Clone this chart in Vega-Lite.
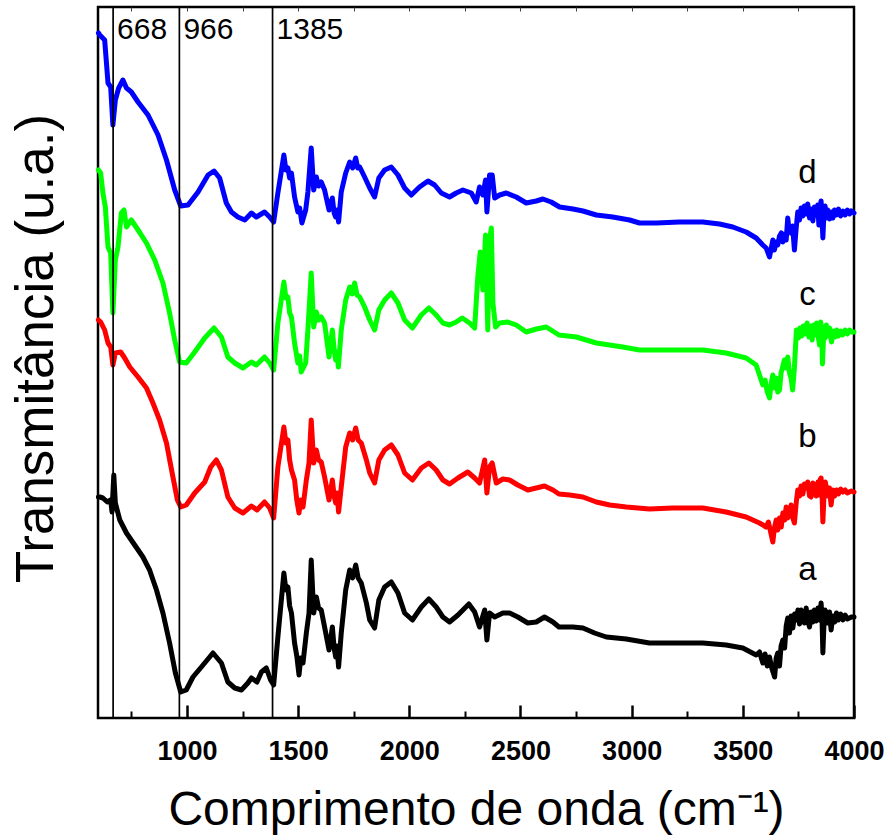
{
  "$schema": "https://vega.github.io/schema/vega-lite/v6.json",
  "width": 756,
  "height": 711,
  "autosize": {"type": "none"},
  "padding": {"left": 98, "top": 7, "right": 36, "bottom": 118},
  "background": "white",
  "config": {
    "view": {"stroke": "black", "strokeWidth": 2.5, "fill": null},
    "font": "Liberation Sans",
    "axis": {"grid": false, "zindex": 1}
  },
  "datasets": {
    "spectra": [
      {"s":"a","wn":602,"t":221},{"s":"a","wn":608,"t":221},{"s":"a","wn":622,"t":220},{"s":"a","wn":642,"t":216},{"s":"a","wn":657,"t":218},{"s":"a","wn":663,"t":206},{"s":"a","wn":671,"t":243},{"s":"a","wn":678,"t":215},{"s":"a","wn":698,"t":198},{"s":"a","wn":728,"t":185},{"s":"a","wn":765,"t":173},{"s":"a","wn":802,"t":161},{"s":"a","wn":832,"t":148},{"s":"a","wn":863,"t":128},{"s":"a","wn":892,"t":105},{"s":"a","wn":922,"t":75},{"s":"a","wn":948,"t":45},{"s":"a","wn":972,"t":26},{"s":"a","wn":997,"t":28},{"s":"a","wn":1027,"t":41},{"s":"a","wn":1065,"t":51},{"s":"a","wn":1117,"t":65},{"s":"a","wn":1155,"t":55},{"s":"a","wn":1184,"t":36},{"s":"a","wn":1215,"t":30},{"s":"a","wn":1245,"t":28},{"s":"a","wn":1274,"t":35},{"s":"a","wn":1290,"t":40},{"s":"a","wn":1315,"t":36},{"s":"a","wn":1335,"t":46},{"s":"a","wn":1357,"t":50},{"s":"a","wn":1376,"t":38},{"s":"a","wn":1390,"t":33},{"s":"a","wn":1409,"t":81},{"s":"a","wn":1436,"t":145},{"s":"a","wn":1445,"t":128},{"s":"a","wn":1454,"t":131},{"s":"a","wn":1462,"t":112},{"s":"a","wn":1470,"t":105},{"s":"a","wn":1484,"t":75},{"s":"a","wn":1494,"t":62},{"s":"a","wn":1504,"t":43},{"s":"a","wn":1512,"t":60},{"s":"a","wn":1522,"t":55},{"s":"a","wn":1537,"t":85},{"s":"a","wn":1549,"t":105},{"s":"a","wn":1559,"t":158},{"s":"a","wn":1570,"t":105},{"s":"a","wn":1582,"t":121},{"s":"a","wn":1592,"t":110},{"s":"a","wn":1604,"t":108},{"s":"a","wn":1619,"t":91},{"s":"a","wn":1639,"t":68},{"s":"a","wn":1654,"t":91},{"s":"a","wn":1662,"t":70},{"s":"a","wn":1669,"t":61},{"s":"a","wn":1675,"t":72},{"s":"a","wn":1682,"t":51},{"s":"a","wn":1694,"t":85},{"s":"a","wn":1714,"t":128},{"s":"a","wn":1732,"t":148},{"s":"a","wn":1745,"t":140},{"s":"a","wn":1759,"t":153},{"s":"a","wn":1770,"t":140},{"s":"a","wn":1784,"t":135},{"s":"a","wn":1807,"t":115},{"s":"a","wn":1822,"t":98},{"s":"a","wn":1844,"t":90},{"s":"a","wn":1863,"t":118},{"s":"a","wn":1889,"t":131},{"s":"a","wn":1919,"t":136},{"s":"a","wn":1949,"t":125},{"s":"a","wn":1979,"t":105},{"s":"a","wn":2014,"t":98},{"s":"a","wn":2054,"t":111},{"s":"a","wn":2088,"t":119},{"s":"a","wn":2121,"t":111},{"s":"a","wn":2151,"t":101},{"s":"a","wn":2181,"t":96},{"s":"a","wn":2219,"t":103},{"s":"a","wn":2268,"t":114},{"s":"a","wn":2294,"t":106},{"s":"a","wn":2316,"t":91},{"s":"a","wn":2339,"t":108},{"s":"a","wn":2349,"t":78},{"s":"a","wn":2361,"t":105},{"s":"a","wn":2384,"t":101},{"s":"a","wn":2421,"t":105},{"s":"a","wn":2451,"t":105},{"s":"a","wn":2488,"t":101},{"s":"a","wn":2533,"t":95},{"s":"a","wn":2571,"t":96},{"s":"a","wn":2608,"t":101},{"s":"a","wn":2646,"t":96},{"s":"a","wn":2673,"t":91},{"s":"a","wn":2736,"t":91},{"s":"a","wn":2781,"t":90},{"s":"a","wn":2833,"t":85},{"s":"a","wn":2886,"t":81},{"s":"a","wn":2976,"t":79},{"s":"a","wn":3080,"t":75},{"s":"a","wn":3185,"t":75},{"s":"a","wn":3320,"t":75},{"s":"a","wn":3425,"t":73},{"s":"a","wn":3500,"t":70},{"s":"a","wn":3560,"t":63},{"s":"a","wn":3575,"t":66},{"s":"a","wn":3590,"t":55},{"s":"a","wn":3600,"t":64},{"s":"a","wn":3610,"t":52},{"s":"a","wn":3620,"t":61},{"s":"a","wn":3630,"t":50},{"s":"a","wn":3643,"t":41},{"s":"a","wn":3650,"t":60},{"s":"a","wn":3657,"t":65},{"s":"a","wn":3665,"t":52},{"s":"a","wn":3672,"t":72},{"s":"a","wn":3680,"t":78},{"s":"a","wn":3688,"t":70},{"s":"a","wn":3695,"t":92},{"s":"a","wn":3702,"t":100},{"s":"a","wn":3710,"t":85},{"s":"a","wn":3717,"t":102},{"s":"a","wn":3725,"t":90},{"s":"a","wn":3733,"t":104},{"s":"a","wn":3741,"t":98},{"s":"a","wn":3748,"t":108},{"s":"a","wn":3755,"t":94},{"s":"a","wn":3762,"t":108},{"s":"a","wn":3770,"t":105},{"s":"a","wn":3777,"t":95},{"s":"a","wn":3785,"t":110},{"s":"a","wn":3792,"t":97},{"s":"a","wn":3800,"t":91},{"s":"a","wn":3807,"t":106},{"s":"a","wn":3815,"t":96},{"s":"a","wn":3822,"t":108},{"s":"a","wn":3830,"t":97},{"s":"a","wn":3838,"t":110},{"s":"a","wn":3845,"t":98},{"s":"a","wn":3852,"t":115},{"s":"a","wn":3856,"t":100},{"s":"a","wn":3860,"t":65},{"s":"a","wn":3866,"t":100},{"s":"a","wn":3870,"t":108},{"s":"a","wn":3875,"t":105},{"s":"a","wn":3882,"t":95},{"s":"a","wn":3890,"t":106},{"s":"a","wn":3897,"t":88},{"s":"a","wn":3905,"t":102},{"s":"a","wn":3913,"t":96},{"s":"a","wn":3921,"t":105},{"s":"a","wn":3930,"t":98},{"s":"a","wn":3940,"t":104},{"s":"a","wn":3950,"t":98},{"s":"a","wn":3960,"t":103},{"s":"a","wn":3970,"t":99},{"s":"a","wn":3988,"t":101},{"s":"a","wn":4000,"t":101},

      {"s":"b","wn":602,"t":398},{"s":"b","wn":612,"t":396},{"s":"b","wn":630,"t":388},{"s":"b","wn":645,"t":375},{"s":"b","wn":657,"t":371},{"s":"b","wn":667,"t":353},{"s":"b","wn":678,"t":365},{"s":"b","wn":702,"t":366},{"s":"b","wn":720,"t":360},{"s":"b","wn":743,"t":351},{"s":"b","wn":780,"t":341},{"s":"b","wn":818,"t":330},{"s":"b","wn":847,"t":315},{"s":"b","wn":877,"t":298},{"s":"b","wn":908,"t":275},{"s":"b","wn":937,"t":241},{"s":"b","wn":957,"t":218},{"s":"b","wn":972,"t":211},{"s":"b","wn":997,"t":213},{"s":"b","wn":1035,"t":225},{"s":"b","wn":1080,"t":236},{"s":"b","wn":1107,"t":251},{"s":"b","wn":1132,"t":258},{"s":"b","wn":1155,"t":248},{"s":"b","wn":1184,"t":221},{"s":"b","wn":1215,"t":210},{"s":"b","wn":1252,"t":205},{"s":"b","wn":1290,"t":212},{"s":"b","wn":1315,"t":208},{"s":"b","wn":1349,"t":216},{"s":"b","wn":1372,"t":210},{"s":"b","wn":1390,"t":200},{"s":"b","wn":1409,"t":251},{"s":"b","wn":1436,"t":291},{"s":"b","wn":1445,"t":275},{"s":"b","wn":1454,"t":278},{"s":"b","wn":1462,"t":258},{"s":"b","wn":1470,"t":248},{"s":"b","wn":1484,"t":238},{"s":"b","wn":1494,"t":218},{"s":"b","wn":1504,"t":205},{"s":"b","wn":1512,"t":218},{"s":"b","wn":1522,"t":211},{"s":"b","wn":1537,"t":238},{"s":"b","wn":1549,"t":255},{"s":"b","wn":1559,"t":298},{"s":"b","wn":1570,"t":255},{"s":"b","wn":1582,"t":268},{"s":"b","wn":1592,"t":258},{"s":"b","wn":1604,"t":256},{"s":"b","wn":1619,"t":241},{"s":"b","wn":1639,"t":218},{"s":"b","wn":1654,"t":238},{"s":"b","wn":1662,"t":222},{"s":"b","wn":1669,"t":215},{"s":"b","wn":1675,"t":225},{"s":"b","wn":1682,"t":206},{"s":"b","wn":1694,"t":231},{"s":"b","wn":1714,"t":271},{"s":"b","wn":1732,"t":285},{"s":"b","wn":1745,"t":278},{"s":"b","wn":1759,"t":290},{"s":"b","wn":1770,"t":278},{"s":"b","wn":1784,"t":275},{"s":"b","wn":1807,"t":258},{"s":"b","wn":1822,"t":245},{"s":"b","wn":1844,"t":235},{"s":"b","wn":1863,"t":258},{"s":"b","wn":1889,"t":268},{"s":"b","wn":1919,"t":273},{"s":"b","wn":1949,"t":263},{"s":"b","wn":1979,"t":245},{"s":"b","wn":2014,"t":238},{"s":"b","wn":2054,"t":250},{"s":"b","wn":2088,"t":255},{"s":"b","wn":2121,"t":248},{"s":"b","wn":2151,"t":238},{"s":"b","wn":2181,"t":234},{"s":"b","wn":2219,"t":240},{"s":"b","wn":2263,"t":246},{"s":"b","wn":2294,"t":240},{"s":"b","wn":2316,"t":235},{"s":"b","wn":2339,"t":258},{"s":"b","wn":2349,"t":225},{"s":"b","wn":2361,"t":251},{"s":"b","wn":2373,"t":255},{"s":"b","wn":2391,"t":235},{"s":"b","wn":2421,"t":239},{"s":"b","wn":2451,"t":238},{"s":"b","wn":2488,"t":233},{"s":"b","wn":2533,"t":228},{"s":"b","wn":2571,"t":230},{"s":"b","wn":2608,"t":232},{"s":"b","wn":2646,"t":228},{"s":"b","wn":2673,"t":224},{"s":"b","wn":2722,"t":223},{"s":"b","wn":2781,"t":221},{"s":"b","wn":2841,"t":216},{"s":"b","wn":2901,"t":213},{"s":"b","wn":2976,"t":211},{"s":"b","wn":3080,"t":209},{"s":"b","wn":3185,"t":210},{"s":"b","wn":3320,"t":210},{"s":"b","wn":3425,"t":206},{"s":"b","wn":3515,"t":201},{"s":"b","wn":3575,"t":195},{"s":"b","wn":3605,"t":191},{"s":"b","wn":3615,"t":196},{"s":"b","wn":3625,"t":186},{"s":"b","wn":3635,"t":176},{"s":"b","wn":3642,"t":190},{"s":"b","wn":3650,"t":198},{"s":"b","wn":3657,"t":188},{"s":"b","wn":3665,"t":200},{"s":"b","wn":3673,"t":191},{"s":"b","wn":3680,"t":205},{"s":"b","wn":3688,"t":198},{"s":"b","wn":3695,"t":211},{"s":"b","wn":3702,"t":200},{"s":"b","wn":3710,"t":205},{"s":"b","wn":3717,"t":213},{"s":"b","wn":3725,"t":200},{"s":"b","wn":3732,"t":195},{"s":"b","wn":3740,"t":215},{"s":"b","wn":3747,"t":228},{"s":"b","wn":3755,"t":222},{"s":"b","wn":3762,"t":232},{"s":"b","wn":3770,"t":224},{"s":"b","wn":3777,"t":234},{"s":"b","wn":3785,"t":230},{"s":"b","wn":3792,"t":236},{"s":"b","wn":3800,"t":222},{"s":"b","wn":3807,"t":221},{"s":"b","wn":3815,"t":235},{"s":"b","wn":3822,"t":232},{"s":"b","wn":3830,"t":222},{"s":"b","wn":3838,"t":236},{"s":"b","wn":3842,"t":223},{"s":"b","wn":3847,"t":238},{"s":"b","wn":3852,"t":240},{"s":"b","wn":3856,"t":226},{"s":"b","wn":3860,"t":196},{"s":"b","wn":3866,"t":228},{"s":"b","wn":3871,"t":236},{"s":"b","wn":3875,"t":231},{"s":"b","wn":3882,"t":222},{"s":"b","wn":3890,"t":230},{"s":"b","wn":3897,"t":213},{"s":"b","wn":3905,"t":228},{"s":"b","wn":3913,"t":222},{"s":"b","wn":3921,"t":228},{"s":"b","wn":3930,"t":224},{"s":"b","wn":3940,"t":229},{"s":"b","wn":3950,"t":226},{"s":"b","wn":3960,"t":228},{"s":"b","wn":3970,"t":225},{"s":"b","wn":3988,"t":227},{"s":"b","wn":4000,"t":226},

      {"s":"c","wn":602,"t":548},{"s":"c","wn":612,"t":545},{"s":"c","wn":622,"t":525},{"s":"c","wn":633,"t":511},{"s":"c","wn":645,"t":471},{"s":"c","wn":657,"t":465},{"s":"c","wn":667,"t":405},{"s":"c","wn":678,"t":458},{"s":"c","wn":690,"t":471},{"s":"c","wn":705,"t":505},{"s":"c","wn":717,"t":508},{"s":"c","wn":728,"t":491},{"s":"c","wn":750,"t":498},{"s":"c","wn":780,"t":488},{"s":"c","wn":818,"t":475},{"s":"c","wn":855,"t":458},{"s":"c","wn":892,"t":435},{"s":"c","wn":922,"t":405},{"s":"c","wn":945,"t":378},{"s":"c","wn":967,"t":356},{"s":"c","wn":997,"t":355},{"s":"c","wn":1035,"t":366},{"s":"c","wn":1080,"t":380},{"s":"c","wn":1122,"t":390},{"s":"c","wn":1155,"t":381},{"s":"c","wn":1184,"t":361},{"s":"c","wn":1215,"t":355},{"s":"c","wn":1252,"t":350},{"s":"c","wn":1290,"t":356},{"s":"c","wn":1312,"t":353},{"s":"c","wn":1349,"t":361},{"s":"c","wn":1372,"t":355},{"s":"c","wn":1390,"t":348},{"s":"c","wn":1409,"t":395},{"s":"c","wn":1436,"t":436},{"s":"c","wn":1445,"t":420},{"s":"c","wn":1454,"t":421},{"s":"c","wn":1462,"t":405},{"s":"c","wn":1470,"t":401},{"s":"c","wn":1484,"t":375},{"s":"c","wn":1499,"t":355},{"s":"c","wn":1507,"t":362},{"s":"c","wn":1514,"t":346},{"s":"c","wn":1534,"t":355},{"s":"c","wn":1544,"t":388},{"s":"c","wn":1559,"t":445},{"s":"c","wn":1570,"t":391},{"s":"c","wn":1582,"t":406},{"s":"c","wn":1592,"t":398},{"s":"c","wn":1604,"t":401},{"s":"c","wn":1619,"t":395},{"s":"c","wn":1639,"t":361},{"s":"c","wn":1654,"t":388},{"s":"c","wn":1662,"t":368},{"s":"c","wn":1669,"t":358},{"s":"c","wn":1675,"t":366},{"s":"c","wn":1681,"t":351},{"s":"c","wn":1694,"t":388},{"s":"c","wn":1714,"t":418},{"s":"c","wn":1732,"t":431},{"s":"c","wn":1743,"t":424},{"s":"c","wn":1754,"t":435},{"s":"c","wn":1765,"t":423},{"s":"c","wn":1777,"t":421},{"s":"c","wn":1799,"t":411},{"s":"c","wn":1822,"t":398},{"s":"c","wn":1844,"t":388},{"s":"c","wn":1863,"t":408},{"s":"c","wn":1889,"t":418},{"s":"c","wn":1919,"t":425},{"s":"c","wn":1949,"t":415},{"s":"c","wn":1979,"t":398},{"s":"c","wn":2014,"t":390},{"s":"c","wn":2054,"t":403},{"s":"c","wn":2088,"t":410},{"s":"c","wn":2121,"t":403},{"s":"c","wn":2151,"t":395},{"s":"c","wn":2181,"t":393},{"s":"c","wn":2211,"t":396},{"s":"c","wn":2238,"t":400},{"s":"c","wn":2271,"t":395},{"s":"c","wn":2294,"t":390},{"s":"c","wn":2308,"t":441},{"s":"c","wn":2319,"t":466},{"s":"c","wn":2331,"t":428},{"s":"c","wn":2343,"t":483},{"s":"c","wn":2353,"t":388},{"s":"c","wn":2361,"t":478},{"s":"c","wn":2369,"t":490},{"s":"c","wn":2376,"t":415},{"s":"c","wn":2388,"t":391},{"s":"c","wn":2406,"t":395},{"s":"c","wn":2443,"t":396},{"s":"c","wn":2481,"t":393},{"s":"c","wn":2526,"t":386},{"s":"c","wn":2571,"t":389},{"s":"c","wn":2616,"t":391},{"s":"c","wn":2673,"t":383},{"s":"c","wn":2751,"t":381},{"s":"c","wn":2841,"t":375},{"s":"c","wn":2960,"t":371},{"s":"c","wn":3035,"t":368},{"s":"c","wn":3185,"t":368},{"s":"c","wn":3320,"t":368},{"s":"c","wn":3425,"t":365},{"s":"c","wn":3515,"t":360},{"s":"c","wn":3560,"t":353},{"s":"c","wn":3575,"t":343},{"s":"c","wn":3590,"t":333},{"s":"c","wn":3600,"t":338},{"s":"c","wn":3610,"t":326},{"s":"c","wn":3620,"t":320},{"s":"c","wn":3628,"t":335},{"s":"c","wn":3635,"t":343},{"s":"c","wn":3643,"t":330},{"s":"c","wn":3650,"t":340},{"s":"c","wn":3657,"t":326},{"s":"c","wn":3665,"t":328},{"s":"c","wn":3672,"t":345},{"s":"c","wn":3680,"t":352},{"s":"c","wn":3687,"t":358},{"s":"c","wn":3695,"t":350},{"s":"c","wn":3702,"t":361},{"s":"c","wn":3710,"t":345},{"s":"c","wn":3717,"t":340},{"s":"c","wn":3724,"t":328},{"s":"c","wn":3732,"t":350},{"s":"c","wn":3741,"t":388},{"s":"c","wn":3750,"t":380},{"s":"c","wn":3757,"t":390},{"s":"c","wn":3765,"t":382},{"s":"c","wn":3772,"t":392},{"s":"c","wn":3780,"t":384},{"s":"c","wn":3789,"t":395},{"s":"c","wn":3797,"t":381},{"s":"c","wn":3805,"t":392},{"s":"c","wn":3812,"t":378},{"s":"c","wn":3818,"t":393},{"s":"c","wn":3825,"t":383},{"s":"c","wn":3832,"t":395},{"s":"c","wn":3840,"t":380},{"s":"c","wn":3845,"t":373},{"s":"c","wn":3850,"t":396},{"s":"c","wn":3855,"t":390},{"s":"c","wn":3858,"t":354},{"s":"c","wn":3865,"t":390},{"s":"c","wn":3870,"t":380},{"s":"c","wn":3876,"t":393},{"s":"c","wn":3883,"t":382},{"s":"c","wn":3890,"t":390},{"s":"c","wn":3899,"t":376},{"s":"c","wn":3906,"t":387},{"s":"c","wn":3914,"t":381},{"s":"c","wn":3922,"t":388},{"s":"c","wn":3930,"t":382},{"s":"c","wn":3940,"t":387},{"s":"c","wn":3948,"t":383},{"s":"c","wn":3960,"t":388},{"s":"c","wn":3970,"t":384},{"s":"c","wn":3980,"t":388},{"s":"c","wn":3989,"t":386},{"s":"c","wn":4000,"t":386},

      {"s":"d","wn":602,"t":685},{"s":"d","wn":608,"t":683},{"s":"d","wn":630,"t":678},{"s":"d","wn":645,"t":635},{"s":"d","wn":657,"t":631},{"s":"d","wn":667,"t":593},{"s":"d","wn":678,"t":618},{"s":"d","wn":693,"t":630},{"s":"d","wn":712,"t":638},{"s":"d","wn":728,"t":630},{"s":"d","wn":750,"t":626},{"s":"d","wn":780,"t":616},{"s":"d","wn":825,"t":603},{"s":"d","wn":870,"t":583},{"s":"d","wn":908,"t":558},{"s":"d","wn":945,"t":528},{"s":"d","wn":972,"t":512},{"s":"d","wn":1005,"t":513},{"s":"d","wn":1050,"t":526},{"s":"d","wn":1095,"t":543},{"s":"d","wn":1122,"t":547},{"s":"d","wn":1147,"t":540},{"s":"d","wn":1177,"t":515},{"s":"d","wn":1200,"t":506},{"s":"d","wn":1229,"t":501},{"s":"d","wn":1260,"t":498},{"s":"d","wn":1290,"t":505},{"s":"d","wn":1312,"t":501},{"s":"d","wn":1349,"t":506},{"s":"d","wn":1372,"t":501},{"s":"d","wn":1390,"t":496},{"s":"d","wn":1409,"t":525},{"s":"d","wn":1436,"t":563},{"s":"d","wn":1445,"t":548},{"s":"d","wn":1454,"t":550},{"s":"d","wn":1462,"t":540},{"s":"d","wn":1470,"t":545},{"s":"d","wn":1484,"t":521},{"s":"d","wn":1499,"t":506},{"s":"d","wn":1507,"t":510},{"s":"d","wn":1517,"t":495},{"s":"d","wn":1534,"t":508},{"s":"d","wn":1544,"t":526},{"s":"d","wn":1559,"t":570},{"s":"d","wn":1570,"t":528},{"s":"d","wn":1582,"t":541},{"s":"d","wn":1592,"t":532},{"s":"d","wn":1604,"t":536},{"s":"d","wn":1619,"t":528},{"s":"d","wn":1639,"t":508},{"s":"d","wn":1654,"t":520},{"s":"d","wn":1662,"t":505},{"s":"d","wn":1669,"t":501},{"s":"d","wn":1675,"t":508},{"s":"d","wn":1682,"t":496},{"s":"d","wn":1694,"t":526},{"s":"d","wn":1714,"t":545},{"s":"d","wn":1732,"t":556},{"s":"d","wn":1745,"t":550},{"s":"d","wn":1759,"t":560},{"s":"d","wn":1768,"t":550},{"s":"d","wn":1777,"t":551},{"s":"d","wn":1799,"t":541},{"s":"d","wn":1822,"t":530},{"s":"d","wn":1844,"t":521},{"s":"d","wn":1863,"t":540},{"s":"d","wn":1889,"t":548},{"s":"d","wn":1919,"t":551},{"s":"d","wn":1949,"t":543},{"s":"d","wn":1979,"t":530},{"s":"d","wn":2009,"t":523},{"s":"d","wn":2046,"t":531},{"s":"d","wn":2084,"t":537},{"s":"d","wn":2114,"t":533},{"s":"d","wn":2144,"t":525},{"s":"d","wn":2181,"t":521},{"s":"d","wn":2211,"t":525},{"s":"d","wn":2241,"t":528},{"s":"d","wn":2279,"t":525},{"s":"d","wn":2301,"t":516},{"s":"d","wn":2316,"t":531},{"s":"d","wn":2331,"t":523},{"s":"d","wn":2343,"t":538},{"s":"d","wn":2349,"t":506},{"s":"d","wn":2361,"t":543},{"s":"d","wn":2373,"t":543},{"s":"d","wn":2384,"t":520},{"s":"d","wn":2406,"t":523},{"s":"d","wn":2436,"t":525},{"s":"d","wn":2481,"t":521},{"s":"d","wn":2526,"t":515},{"s":"d","wn":2571,"t":517},{"s":"d","wn":2601,"t":519},{"s":"d","wn":2638,"t":516},{"s":"d","wn":2676,"t":511},{"s":"d","wn":2736,"t":509},{"s":"d","wn":2781,"t":507},{"s":"d","wn":2841,"t":503},{"s":"d","wn":2915,"t":501},{"s":"d","wn":2991,"t":498},{"s":"d","wn":3035,"t":495},{"s":"d","wn":3111,"t":495},{"s":"d","wn":3215,"t":496},{"s":"d","wn":3320,"t":496},{"s":"d","wn":3395,"t":494},{"s":"d","wn":3455,"t":491},{"s":"d","wn":3515,"t":486},{"s":"d","wn":3560,"t":480},{"s":"d","wn":3590,"t":473},{"s":"d","wn":3605,"t":470},{"s":"d","wn":3620,"t":461},{"s":"d","wn":3628,"t":470},{"s":"d","wn":3635,"t":478},{"s":"d","wn":3642,"t":468},{"s":"d","wn":3650,"t":476},{"s":"d","wn":3657,"t":473},{"s":"d","wn":3665,"t":482},{"s":"d","wn":3673,"t":485},{"s":"d","wn":3680,"t":476},{"s":"d","wn":3688,"t":484},{"s":"d","wn":3695,"t":478},{"s":"d","wn":3702,"t":500},{"s":"d","wn":3708,"t":488},{"s":"d","wn":3717,"t":485},{"s":"d","wn":3724,"t":492},{"s":"d","wn":3732,"t":468},{"s":"d","wn":3740,"t":490},{"s":"d","wn":3747,"t":506},{"s":"d","wn":3755,"t":498},{"s":"d","wn":3762,"t":510},{"s":"d","wn":3770,"t":502},{"s":"d","wn":3777,"t":512},{"s":"d","wn":3785,"t":504},{"s":"d","wn":3792,"t":514},{"s":"d","wn":3800,"t":500},{"s":"d","wn":3807,"t":509},{"s":"d","wn":3815,"t":497},{"s":"d","wn":3822,"t":511},{"s":"d","wn":3830,"t":503},{"s":"d","wn":3837,"t":513},{"s":"d","wn":3842,"t":493},{"s":"d","wn":3847,"t":510},{"s":"d","wn":3852,"t":517},{"s":"d","wn":3856,"t":500},{"s":"d","wn":3860,"t":480},{"s":"d","wn":3865,"t":505},{"s":"d","wn":3870,"t":512},{"s":"d","wn":3875,"t":500},{"s":"d","wn":3882,"t":508},{"s":"d","wn":3890,"t":499},{"s":"d","wn":3897,"t":506},{"s":"d","wn":3905,"t":500},{"s":"d","wn":3912,"t":508},{"s":"d","wn":3921,"t":503},{"s":"d","wn":3930,"t":509},{"s":"d","wn":3940,"t":502},{"s":"d","wn":3950,"t":507},{"s":"d","wn":3960,"t":503},{"s":"d","wn":3970,"t":508},{"s":"d","wn":3980,"t":504},{"s":"d","wn":3988,"t":507},{"s":"d","wn":4000,"t":505}
    ],
    "bands": [
      {"wn": 668, "label": "668"},
      {"wn": 966, "label": "966"},
      {"wn": 1385, "label": "1385"}
    ],
    "curveLabels": [
      {"s": "a", "wn": 3791, "t": 148},
      {"s": "b", "wn": 3791, "t": 281},
      {"s": "c", "wn": 3791, "t": 423},
      {"s": "d", "wn": 3791, "t": 545}
    ]
  },
  "layer": [
    {
      "data": {"name": "spectra"},
      "mark": {"type": "line", "strokeWidth": 5, "strokeJoin": "round", "strokeCap": "round"},
      "encoding": {
        "x": {
          "field": "wn", "type": "quantitative",
          "scale": {"domain": [600, 4000], "nice": false, "zero": false},
          "axis": {
            "orient": "bottom",
            "title": "Comprimento de onda (cm⁻¹)",
            "values": [1000, 1500, 2000, 2500, 3000, 3500, 4000],
            "format": "d",
            "domain": false,
            "ticks": true,
            "offset": -13,
            "tickSize": 13, "tickWidth": 2.5, "tickColor": "black", "tickOpacity": 1,
            "labelFontSize": 27, "labelFontWeight": "bold", "labelColor": "black", "labelFont": "Liberation Sans",
            "labelPadding": 20, "labelFlush": false, "labelOverlap": false,
            "titleFontSize": 48, "titleFontWeight": "normal", "titleColor": "black", "titleFont": "Liberation Sans",
            "titlePadding": 22
          }
        },
        "y": {
          "field": "t", "type": "quantitative",
          "scale": {"domain": [0, 711], "nice": false, "zero": false},
          "axis": {
            "title": "Transmitância (u.a.)",
            "labels": false, "ticks": false, "domain": false,
            "titleFontSize": 53, "titleFontWeight": "normal", "titleColor": "black", "titleFont": "Liberation Sans",
            "titlePadding": 35, "titleY": 341
          }
        },
        "color": {
          "field": "s", "type": "nominal",
          "scale": {"domain": ["a", "b", "c", "d"], "range": ["#000000", "#ff0000", "#00ff00", "#0000ff"]},
          "legend": null
        }
      }
    },
    {
      "data": {"name": "bands"},
      "mark": {"type": "rule", "color": "black", "strokeWidth": 1.7},
      "encoding": {
        "x": {
          "field": "wn", "type": "quantitative",
          "axis": {
            "orient": "bottom", "title": null,
            "values": [750, 1250, 1750, 2250, 2750, 3250, 3750],
            "labels": false, "domain": false, "ticks": true,
            "offset": -7,
            "tickSize": 7, "tickWidth": 2, "tickColor": "black", "tickOpacity": 1
          }
        }
      }
    },
    {
      "data": {"name": "bands"},
      "mark": {"type": "text", "fontSize": 30, "font": "Liberation Sans", "align": "left", "baseline": "alphabetic", "dx": 4, "color": "black"},
      "encoding": {
        "x": {
          "field": "wn", "type": "quantitative",
          "axis": {
            "orient": "top", "title": null,
            "values": [750, 1000, 1250, 1500, 1750, 2000, 2250, 2500, 2750, 3000, 3250, 3500, 3750],
            "labels": false, "domain": false, "ticks": true,
            "offset": -4,
            "tickSize": 4, "tickWidth": 1, "tickColor": "#444444", "tickOpacity": 1
          }
        },
        "y": {"datum": 679},
        "text": {"field": "label"}
      }
    },
    {
      "data": {"name": "curveLabels"},
      "mark": {"type": "text", "fontSize": 33, "font": "Liberation Sans", "align": "center", "baseline": "middle", "color": "black"},
      "encoding": {
        "x": {"field": "wn", "type": "quantitative", "axis": null},
        "y": {"field": "t", "type": "quantitative"},
        "text": {"field": "s"}
      }
    }
  ],
  "resolve": {"axis": {"x": "independent"}}
}
